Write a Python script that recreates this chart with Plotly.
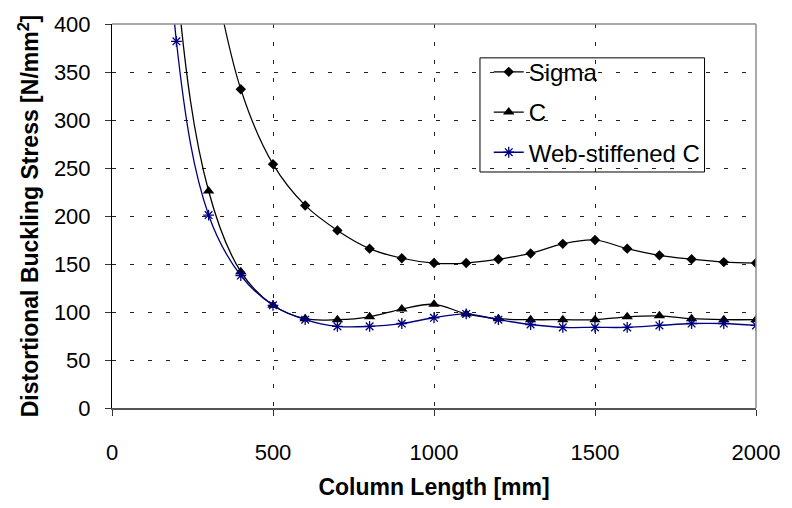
import plotly.graph_objects as go

# Column lengths [mm]
length_sigma = [300, 400, 500, 600, 700, 800, 900, 1000, 1100, 1200, 1300, 1400, 1500, 1600, 1700, 1800, 1900, 2000]
sigma = [480, 332, 254, 211, 185, 166, 156, 151, 151, 155, 161, 171, 175, 166, 159, 155, 152, 151]

length_c = [100, 200, 300, 400, 500, 600, 700, 800, 900, 1000, 1100, 1200, 1300, 1400, 1500, 1600, 1700, 1800, 1900, 2000]
c_vals = [1500, 450, 226, 142, 107, 93, 92, 95, 103, 108, 98, 93, 92, 92, 92, 95, 96, 93, 92, 92]

length_web = [100, 200, 300, 400, 500, 600, 700, 800, 900, 1000, 1100, 1200, 1300, 1400, 1500, 1600, 1700, 1800, 1900, 2000]
web = [1300, 382, 201, 138, 107, 92, 85, 85, 88, 94, 98, 92, 87, 84, 84, 84, 86, 88, 88, 86]

x_ticks = [0, 500, 1000, 1500, 2000]
y_ticks = [0, 50, 100, 150, 200, 250, 300, 350, 400]

FONT = "Arial, Liberation Sans, sans-serif"
NAVY = "#000080"

fig = go.Figure()
fig.add_trace(go.Scatter(
    x=length_sigma, y=sigma, name="Sigma", mode="lines+markers",
    line=dict(color="black", width=1.2, shape="spline", smoothing=1),
    marker=dict(symbol="diamond", size=8, color="black"),
    legendgroup="a", cliponaxis=True))
fig.add_trace(go.Scatter(
    x=length_c, y=c_vals, name="C", mode="lines+markers",
    line=dict(color="black", width=1.3, shape="spline", smoothing=1),
    marker=dict(symbol="triangle-up", size=10, color="black"),
    legendgroup="b", cliponaxis=True))
fig.add_trace(go.Scatter(
    x=length_web, y=web, name="Web-stiffened C", mode="lines+markers",
    line=dict(color=NAVY, width=1.3, shape="spline", smoothing=1),
    marker=dict(symbol="asterisk-open", size=9, color=NAVY, line=dict(color=NAVY, width=1.3)),
    legendgroup="c", cliponaxis=True))

# top and right frame lines
fig.add_shape(type="line", xref="paper", yref="paper", x0=0, x1=1, y0=1, y1=1,
              line=dict(color="#8c8c8c", width=1.5), layer="above")
fig.add_shape(type="line", xref="paper", yref="paper", x0=1, x1=1, y0=0, y1=1,
              line=dict(color="#8c8c8c", width=1.5), layer="above")
# legend frame (white box hiding the grid)
fig.add_shape(type="rect", xref="paper", yref="paper", x0=0.5714, x1=0.9201, y0=0.6146, y1=0.9118,
              line=dict(color="black", width=1), fillcolor="white", layer="between")

fig.update_layout(
    width=792, height=508,
    margin=dict(l=112, r=29, t=14, b=97),
    paper_bgcolor="white", plot_bgcolor="white",
    font=dict(family=FONT, size=22, color="black"),
    showlegend=True,
    legend=dict(
        x=0.585, y=0.933, xanchor="left", yanchor="top",
        bgcolor="rgba(0,0,0,0)", borderwidth=0,
        font=dict(family=FONT, size=24, color="black"),
        tracegroupgap=6, traceorder="grouped", itemwidth=30,
    ),
    xaxis=dict(
        range=[0, 2000], tickvals=x_ticks, ticktext=[str(v) for v in x_ticks],
        showgrid=True, gridcolor="#222222", gridwidth=1, griddash="4px,14px",
        zeroline=False, showline=True, linecolor="#555555", linewidth=2,
        ticks="outside", ticklen=6, tickcolor="#333333", ticklabelstandoff=18,
        tickfont=dict(size=22),
        title=dict(text="<b>Column Length [mm]</b>", font=dict(size=23), standoff=14),
    ),
    yaxis=dict(
        range=[0, 400], tickvals=y_ticks, ticktext=[str(v) for v in y_ticks],
        showgrid=True, gridcolor="#222222", gridwidth=1, griddash="4px,14px",
        zeroline=False, showline=True, linecolor="black", linewidth=1,
        ticks="outside", ticklen=6, tickcolor="#333333", ticklabelstandoff=10,
        tickfont=dict(size=22),
        title=dict(text="<b>Distortional Buckling Stress [N/mm<sup>2</sup>]</b>", font=dict(size=23), standoff=8),
    ),
)

fig.write_html("out.html")
